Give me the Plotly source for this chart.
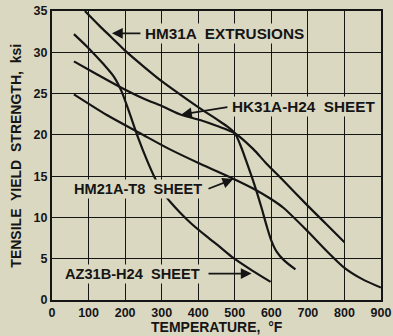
import plotly.graph_objects as go

# ---- data ----
x_ticks = [0, 100, 200, 300, 400, 500, 600, 700, 800, 900]
y_ticks = [0, 5, 10, 15, 20, 25, 30, 35]

hm31a_t = [90, 130, 163, 200, 250, 300, 350, 405, 450, 480, 500, 515, 530, 555, 573, 587, 600, 614, 635, 666]
hm31a_v = [35.0, 33.2, 31.8, 30.2, 28.3, 26.5, 24.9, 23.2, 21.9, 21.0, 20.2, 18.8, 17.0, 13.8, 11.2, 9.0, 7.2, 5.9, 4.8, 3.7]

hk31a_t = [60, 120, 186, 250, 300, 355, 405, 450, 500, 550, 587, 632, 700, 750, 800]
hk31a_v = [28.9, 27.4, 25.8, 24.4, 23.5, 22.4, 21.8, 21.1, 20.2, 18.3, 16.5, 14.5, 11.4, 9.2, 7.0]

hm21a_t = [60, 150, 241, 320, 405, 500, 550, 600, 632, 700, 750, 800, 850, 900]
hm21a_v = [24.9, 22.4, 20.2, 18.3, 16.5, 14.6, 13.5, 12.2, 11.2, 8.3, 6.0, 3.9, 2.5, 1.5]

az31b_t = [60, 100, 140, 170, 190, 210, 236, 260, 280, 300, 325, 350, 380, 423, 460, 496, 550, 598]
az31b_v = [32.2, 30.5, 28.6, 27.0, 25.3, 22.9, 19.6, 16.9, 14.9, 13.2, 11.8, 10.6, 9.3, 7.7, 6.4, 5.1, 3.5, 2.2]

series = [
    ("HM31A EXTRUSIONS", hm31a_t, hm31a_v),
    ("HK31A-H24 SHEET", hk31a_t, hk31a_v),
    ("HM21A-T8 SHEET", hm21a_t, hm21a_v),
    ("AZ31B-H24 SHEET", az31b_t, az31b_v),
]

# label text, anchor side, font size, text anchor (x, y), arrow tail (x, y), arrow head (x, y)
labels = [
    ("HM31A  EXTRUSIONS", "left", 15.3, (249, 32.3), (246, 32.3), (164, 32.3)),
    ("HK31A-H24  SHEET", "left", 15.3, (487, 23.4), (484, 23.4), (353, 22.45)),
    ("HM21A-T8  SHEET", "right", 14.6, (415, 13.4), (424, 13.4), (496, 14.65)),
    ("AZ31B-H24  SHEET", "right", 14.6, (410, 3.2), (424, 3.2), (546, 3.2)),
]

BG = "rgb(219,216,194)"
INK = "#151515"
FONT = "Liberation Sans"

fig = go.Figure()
for name, t, v in series:
    fig.add_trace(go.Scatter(x=t, y=v, mode="lines", name=name,
                             line=dict(color=INK, width=2.2, shape="spline", smoothing=0.8),
                             showlegend=False, hoverinfo="skip"))

for text, side, fs, (tx, ty), (ax, ay), (hx, hy) in labels:
    fig.add_annotation(x=hx, y=hy, ax=ax, ay=ay, xref="x", yref="y", axref="x", ayref="y",
                       text="", showarrow=True, arrowhead=2, arrowsize=1.2, arrowwidth=1.8,
                       arrowcolor=INK, standoff=0, startstandoff=0)
    fig.add_annotation(x=tx, y=ty, xref="x", yref="y", text=text, showarrow=False,
                       xanchor=side, yanchor="middle", bgcolor=BG, borderpad=1,
                       font=dict(family=FONT, size=fs, color=INK, weight="bold"))

fig.add_annotation(x=0.5, y=-0.093, xref="paper", yref="paper", text="TEMPERATURE,  °F",
                   showarrow=False, xanchor="center", yanchor="middle",
                   font=dict(family=FONT, size=14, color=INK, weight="bold"))
fig.add_annotation(x=-0.112, y=0.5, xref="paper", yref="paper", text="TENSILE  YIELD  STRENGTH,  ksi",
                   showarrow=False, xanchor="center", yanchor="middle", textangle=-90,
                   font=dict(family=FONT, size=14, color=INK, weight="bold"))

axis_common = dict(showgrid=True, gridcolor=INK, gridwidth=1.3, zeroline=False,
                   showline=True, linecolor=INK, linewidth=2, mirror=True, ticks="",
                   automargin=False,
                   tickfont=dict(family=FONT, size=12.5, color=INK, weight="bold"))
fig.update_xaxes(range=[0, 900], tickvals=x_ticks, **axis_common)
fig.update_yaxes(range=[0, 35], tickvals=y_ticks, **axis_common)

fig.update_layout(width=393, height=336, margin=dict(l=52, r=12, t=11, b=36, autoexpand=False),
                  paper_bgcolor=BG, plot_bgcolor=BG)
fig.write_html("out.html", config={"displayModeBar": False},
               post_script="document.body.style.margin='0';document.body.style.overflow='hidden';document.body.style.background='rgb(219,216,194)';")
